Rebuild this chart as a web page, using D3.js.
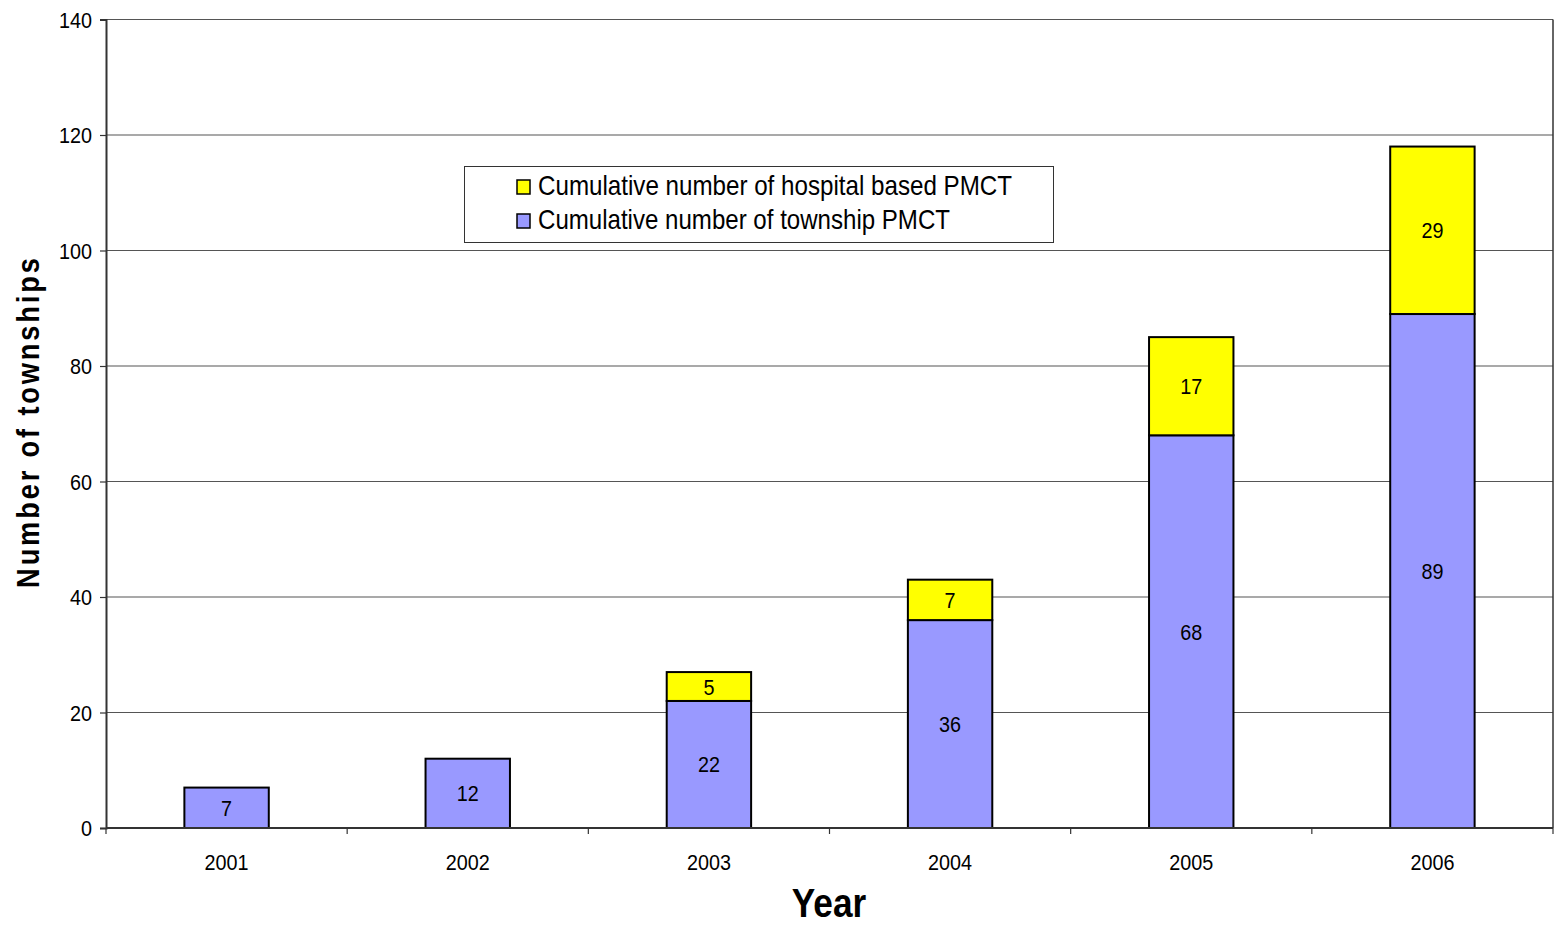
<!DOCTYPE html>
<html>
<head>
<meta charset="utf-8">
<script src="https://cdn.jsdelivr.net/npm/d3@7"></script>
<style>
  html, body { margin: 0; padding: 0; background: #fff; }
  svg { display: block; font-family: "Liberation Sans", Arial, sans-serif; }
</style>
</head>
<body>
<svg id="chart" width="1554" height="926"></svg>
<script>
// Years and stacked counts of PMCT townships
const years = ["2001", "2002", "2003", "2004", "2005", "2006"];
const townshipPMCT = [7, 12, 22, 36, 68, 89];
const hospitalPMCT = [0, 0, 5, 7, 17, 29];
const yTicks = [0, 20, 40, 60, 80, 100, 120, 140];
const seriesNames = ["Cumulative number of hospital based PMCT", "Cumulative number of township PMCT"];
const colors = { township: "#9999ff", hospital: "#ffff00" };

const svg = d3.select("#chart");
const plot = { left: 106, right: 1553, top: 19.5, bottom: 828 };
const narrow = 0.9; // horizontal squeeze for the labels

const x = d3.scaleBand().domain(years).range([plot.left, plot.right]).paddingInner(0).paddingOuter(0);
const y = d3.scaleLinear().domain([0, 140]).range([plot.bottom, plot.top]);

// places a slightly condensed text label
function label(sel, tx, ty, anchor, size, txt) {
  return sel.append("text")
    .attr("transform", `translate(${tx},${ty}) scale(${narrow},1)`)
    .attr("text-anchor", anchor)
    .attr("font-size", size)
    .attr("fill", "#000")
    .text(txt);
}

// gridlines
svg.append("g")
  .selectAll("line")
  .data(yTicks.filter(d => d > 0))
  .join("line")
  .attr("x1", plot.left).attr("x2", plot.right)
  .attr("y1", d => y(d)).attr("y2", d => y(d))
  .attr("stroke", "#555").attr("stroke-width", 1.2);

// right border of the plot area
svg.append("line")
  .attr("x1", plot.right).attr("x2", plot.right)
  .attr("y1", plot.top).attr("y2", plot.bottom)
  .attr("stroke", "#333").attr("stroke-width", 1.5);

// stacked data
const rows = years.map((yr, i) => ({ year: yr, township: townshipPMCT[i], hospital: hospitalPMCT[i] }));
const stack = d3.stack().keys(["township", "hospital"]);
const layers = stack(rows);

const barW = x.bandwidth() * 0.35;
const barX = d => x(d.data.year) + (x.bandwidth() - barW) / 2;

layers.forEach(layer => {
  const g = svg.append("g");
  const segs = layer.filter(d => d[1] - d[0] > 0);
  g.selectAll("rect")
    .data(segs)
    .join("rect")
    .attr("x", barX)
    .attr("width", barW)
    .attr("y", d => y(d[1]))
    .attr("height", d => y(d[0]) - y(d[1]))
    .attr("fill", colors[layer.key])
    .attr("stroke", "#000")
    .attr("stroke-width", 2);
  segs.forEach(d => {
    label(g, x(d.data.year) + x.bandwidth() / 2, y((d[0] + d[1]) / 2) + 8, "middle", 22, d[1] - d[0]);
  });
});

// y axis
const yAxis = svg.append("g")
  .attr("transform", `translate(${plot.left},0)`)
  .call(d3.axisLeft(y).tickValues(yTicks).tickSize(6).tickFormat(""));
yAxis.select(".domain").attr("stroke", "#333").attr("stroke-width", 2);
yAxis.selectAll(".tick line").attr("stroke", "#333").attr("stroke-width", 1.2);
const yLab = svg.append("g");
yTicks.forEach(t => label(yLab, 92, y(t) + 8, "end", 22, t));

// x axis: baseline plus ticks between categories
svg.append("line")
  .attr("x1", plot.left).attr("x2", plot.right)
  .attr("y1", plot.bottom).attr("y2", plot.bottom)
  .attr("stroke", "#333").attr("stroke-width", 2);
const xTickPos = years.map(yr => x(yr)).concat([plot.right]);
svg.append("g").selectAll("line")
  .data(xTickPos)
  .join("line")
  .attr("x1", d => d).attr("x2", d => d)
  .attr("y1", plot.bottom).attr("y2", plot.bottom + 6)
  .attr("stroke", "#333").attr("stroke-width", 1.2);
const xLab = svg.append("g");
years.forEach(yr => label(xLab, x(yr) + x.bandwidth() / 2, 870, "middle", 22, yr));

// axis titles
svg.append("text")
  .attr("transform", "translate(829,917) scale(0.88,1)")
  .attr("text-anchor", "middle")
  .attr("font-size", 40).attr("font-weight", "bold")
  .text("Year");
svg.append("text")
  .attr("transform", "translate(39,423) rotate(-90) scale(0.85,1)")
  .attr("text-anchor", "middle")
  .attr("font-size", 32).attr("font-weight", "bold")
  .attr("textLength", 388).attr("lengthAdjust", "spacing")
  .text("Number of townships");

// legend
const lg = svg.append("g");
lg.append("rect")
  .attr("x", 464.5).attr("y", 166.5).attr("width", 589).attr("height", 76)
  .attr("fill", "#fff").attr("stroke", "#333").attr("stroke-width", 1);
const legendItems = [
  { name: seriesNames[0], color: colors.hospital, len: 474 },
  { name: seriesNames[1], color: colors.township, len: 412 }
];
legendItems.forEach((it, i) => {
  const cy = 186 + i * 34;
  lg.append("rect")
    .attr("x", 517).attr("y", cy - 6).attr("width", 13).attr("height", 14)
    .attr("fill", it.color).attr("stroke", "#000").attr("stroke-width", 1.5);
  lg.append("text")
    .attr("x", 538).attr("y", cy + 9)
    .attr("font-size", 28)
    .attr("textLength", it.len).attr("lengthAdjust", "spacingAndGlyphs")
    .text(it.name);
});
</script>
</body>
</html>
